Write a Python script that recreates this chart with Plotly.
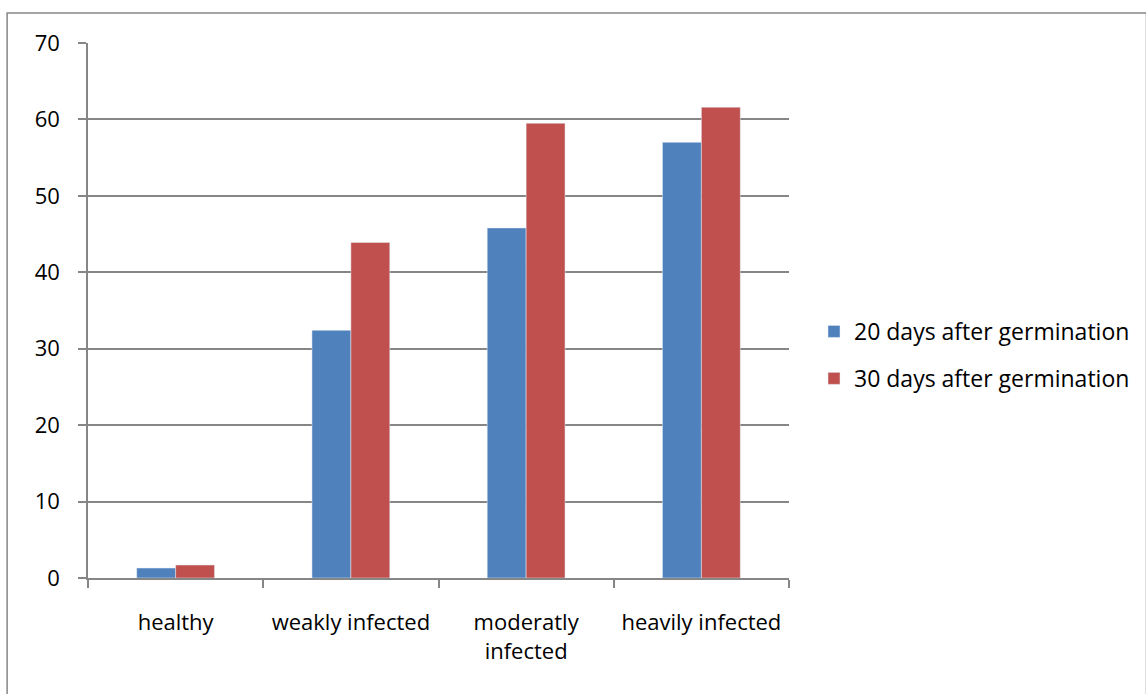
import plotly.graph_objects as go

categories = ["healthy", "weakly infected", "moderatly<br>infected", "heavily infected"]
series_20 = [1.3, 32.4, 45.8, 57.0]
series_30 = [1.7, 43.9, 59.5, 61.6]
name_20 = "20 days after germination"
name_30 = "30 days after germination"
y_ticks = [0, 10, 20, 30, 40, 50, 60, 70]

W, H = 1146, 694
L, R, T, B = 88, 790, 43, 578
pw, ph = R - L, B - T

fig = go.Figure()
fig.add_trace(go.Bar(x=categories, y=series_20, name=name_20, marker_color="#4F81BD",
                     legendgroup="a"))
fig.add_trace(go.Bar(x=categories, y=series_30, name=name_30, marker_color="#C0504D",
                     legendgroup="b"))

grid = "#868686"
fig.update_layout(
    width=W, height=H,
    margin=dict(l=L, r=W - R, t=T, b=H - B, pad=0),
    paper_bgcolor="white", plot_bgcolor="white",
    barmode="group", bargap=0.556, bargroupgap=0,
    font=dict(family="Open Sans", size=22, color="black"),
    showlegend=True,
    legend=dict(x=(814 - L) / pw, xanchor="left", y=(B - 355) / ph, yanchor="middle",
                font=dict(size=23), traceorder="grouped", tracegroupgap=14,
                itemwidth=30, bgcolor="rgba(0,0,0,0)"),
    xaxis=dict(type="category", showline=True, linecolor=grid, linewidth=1.5,
               ticks="outside", tickson="boundaries", ticklen=8, tickcolor=grid,
               tickwidth=1.5, showgrid=False, ticklabelstandoff=24),
    yaxis=dict(range=[0, 70], tickvals=y_ticks, showline=True, linecolor=grid,
               linewidth=1.5, ticks="outside", ticklen=8, tickcolor=grid, tickwidth=1.5,
               showgrid=True, gridcolor=grid, gridwidth=1.5, zeroline=False,
               ticklabelstandoff=14),
    shapes=[dict(type="rect", xref="paper", yref="paper",
                 x0=(7 - L) / pw, x1=(1148 - L) / pw,
                 y0=(B - 696) / ph, y1=(B - 13) / ph,
                 line=dict(color=grid, width=1.5), layer="below")],
)

fig.write_html("out.html", config={"displayModeBar": False},
               post_script="document.body.style.margin='0';document.body.style.overflow='hidden';")
